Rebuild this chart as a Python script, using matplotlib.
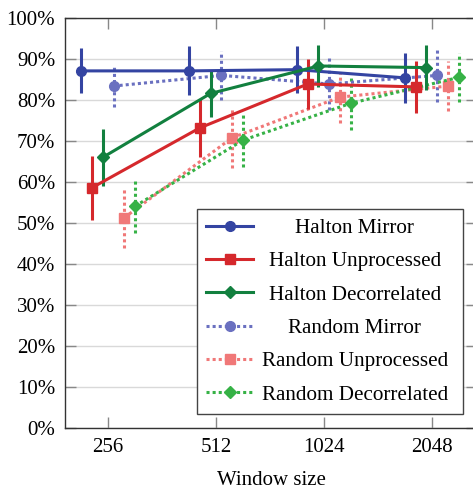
import numpy as np
import matplotlib.pyplot as plt

plt.rcParams['font.family'] = ['Liberation Serif', 'DejaVu Serif']
plt.rcParams['font.size'] = 15

# window sizes and results (%), mean and +/- error
window = np.array([256, 512, 1024, 2048])
names = ['Halton Mirror', 'Halton Unprocessed', 'Halton Decorrelated',
         'Random Mirror', 'Random Unprocessed', 'Random Decorrelated']

halton_mirror = [87.1, 87.1, 87.4, 85.4]
halton_mirror_err = [5.5, 6.0, 5.8, 6.1]
halton_unproc = [58.6, 73.2, 83.9, 83.2]
halton_unproc_err = [7.8, 7.0, 6.0, 6.4]
halton_decor = [66.0, 81.6, 88.3, 87.9]
halton_decor_err = [7.0, 5.8, 5.2, 5.5]
random_mirror = [83.4, 86.0, 83.9, 86.0]
random_mirror_err = [5.0, 6.0, 6.3, 6.4]
random_unproc = [51.3, 70.8, 80.7, 83.4]
random_unproc_err = [7.4, 7.4, 6.2, 6.0]
random_decor = [54.1, 70.2, 79.2, 85.5]
random_decor_err = [6.5, 6.5, 6.4, 6.0]

means = [halton_mirror, halton_unproc, halton_decor, random_mirror, random_unproc, random_decor]
errs = [halton_mirror_err, halton_unproc_err, halton_decor_err,
        random_mirror_err, random_unproc_err, random_decor_err]

colors = ['#3444a2', '#d5282c', '#12803f', '#6a70c0', '#f07878', '#36b246']
markers = ['o', 's', 'D', 'o', 's', 'D']
msizes = [7, 7.5, 6, 7, 7.5, 6]
shifts = [-0.25, -0.15, -0.05, 0.05, 0.15, 0.25]

fig = plt.figure(figsize=(4.73, 4.96), dpi=100)
ax = fig.add_axes([65 / 473, 1 - 428 / 496, 412 / 473, 410 / 496])

handles = []
for i in range(6):
    ls = '-' if i < 3 else (0, (1, 1))
    xs = window * 2.0 ** shifts[i]
    eb = ax.errorbar(xs, means[i], yerr=errs[i], color=colors[i], lw=2.2, ls=ls,
                     marker=markers[i], ms=msizes[i], mec=colors[i], mfc=colors[i],
                     elinewidth=2.2, capsize=0, zorder=3 + (i < 3))
    eb[2][0].set_linestyle(ls)
    eb[0].set_dash_capstyle('butt')
    handles.append(eb[0])

ax.set_xscale('log', base=2)
ax.set_xlim(2 ** 7.6, 2 ** 11.42)
ax.set_xticks(window)
ax.set_xticklabels([str(w) for w in window])
ax.minorticks_off()
ax.set_ylim(0, 100)
ax.set_yticks(np.arange(0, 101, 10))
ax.set_yticklabels(['%d%%' % v for v in range(0, 101, 10)])
ax.yaxis.grid(True, color='#d9d9d9', lw=1.0)
ax.set_axisbelow(True)
ax.tick_params(direction='in', length=8, width=1, color='#888888',
               top=True, right=True, pad=7)
for s in ax.spines.values():
    s.set_color('#333333')
    s.set_linewidth(1.0)
ax.set_xlabel('Window size', labelpad=10)

leg = ax.legend(handles, names, loc='lower right', bbox_to_anchor=(0.967, 0.034),
                borderaxespad=0, fancybox=False, edgecolor='#444444', framealpha=1,
                handlelength=2.2, handletextpad=0.7, labelspacing=0.64,
                borderpad=0.45, fontsize=15.2)
leg.get_frame().set_linewidth(1.0)

# center the legend texts like the original
fig.canvas.draw()
r = fig.canvas.get_renderer()
texts = leg.get_texts()
widths = [t.get_window_extent(r).width for t in texts]
mw = max(widths)
for t, w in zip(texts, widths):
    t.set_x((mw - w) / 2 - 6)

fig.savefig('out.png', dpi=100)
